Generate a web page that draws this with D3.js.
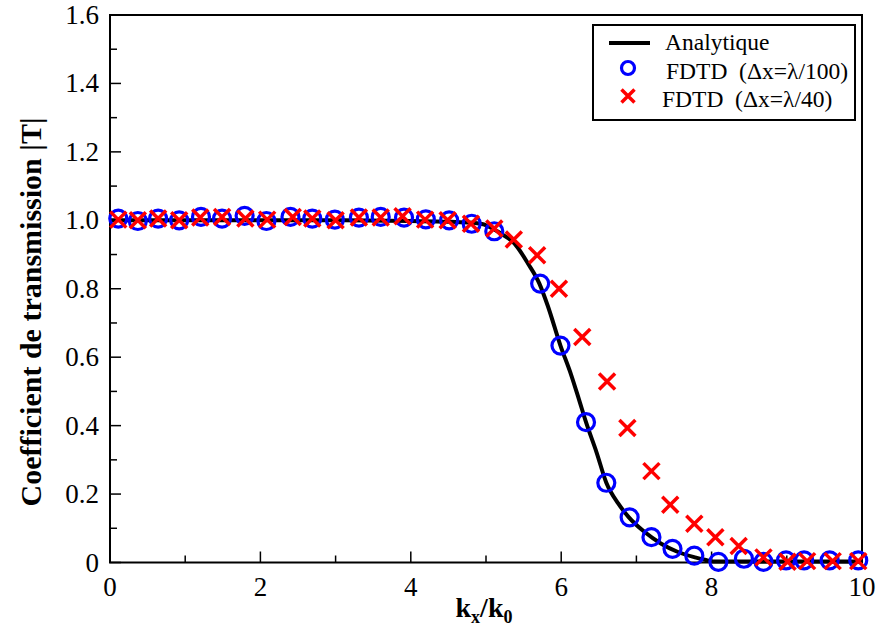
<!DOCTYPE html>
<html><head><meta charset="utf-8">
<script src="https://cdn.jsdelivr.net/npm/d3@7/dist/d3.min.js"></script>
<style>body{margin:0;background:#fff}svg{display:block} text{font-family:"Liberation Serif","DejaVu Serif",serif;}</style>
</head><body>
<svg id="chart" width="886" height="630"></svg>
<script>
// ---- data ----
const circleX = [0.11,0.37,0.64,0.92,1.21,1.49,1.79,2.08,2.40,2.69,2.99,3.31,3.60,3.91,4.20,4.51,4.81,5.11,5.72,5.99,6.33,6.60,6.91,7.20,7.48,7.77,8.09,8.43,8.69,8.99,9.23,9.57,9.95];
const circleY = [1.005,0.998,1.005,1.0,1.01,1.005,1.013,0.998,1.01,1.005,1.002,1.008,1.01,1.008,1.003,1.0,0.99,0.968,0.815,0.634,0.41,0.233,0.132,0.074,0.04,0.02,0.002,0.011,0.002,0.006,0.006,0.006,0.006];
const crossX = [0.11,0.37,0.64,0.92,1.20,1.49,1.80,2.09,2.43,2.69,3.00,3.31,3.60,3.89,4.19,4.49,4.80,5.11,5.37,5.68,5.97,6.28,6.61,6.88,7.20,7.45,7.77,8.05,8.36,8.69,9.01,9.27,9.61,9.95];
const crossY = [1.002,1.0,1.005,1.0,1.008,1.01,1.005,1.002,1.01,1.005,1.0,1.008,1.008,1.012,1.002,1.0,0.99,0.976,0.944,0.898,0.80,0.659,0.529,0.393,0.267,0.169,0.113,0.074,0.048,0.015,0.002,0.004,0.004,0.004];
const lineX = [0,1,2,3,4,4.5,4.93,5.2,5.38,5.56,5.71,5.82,5.99,6.13,6.24,6.33,6.47,6.6,6.76,6.9,7.11,7.33,7.56,7.78,7.91,8.02,9,10];
const lineY = [1.0,1.0,1.0,1.0,0.998,0.996,0.99,0.961,0.932,0.873,0.815,0.751,0.634,0.55,0.474,0.41,0.322,0.233,0.172,0.132,0.089,0.055,0.03,0.015,0.008,0.003,0.003,0.003];
const xTicks = [0,2,4,6,8,10];
const yTicks = [0,0.2,0.4,0.6,0.8,1.0,1.2,1.4,1.6];
const yTickLabels = ["0","0.2","0.4","0.6","0.8","1.0","1.2","1.4","1.6"];
const legendLabels = ["Analytique","FDTD  (\u0394x=\u03bb/100)","FDTD  (\u0394x=\u03bb/40)"];

const svg = d3.select("#chart");
const L=110, R=862, T=15, B=562.5;
const x = d3.scaleLinear().domain([0,10]).range([L,R]);
const y = d3.scaleLinear().domain([0,1.6]).range([B,T]);

function txt(sel){ return sel.style("font-family",`"Liberation Serif"`); }

// ticks (major every 2 / 0.2, minor every 1 / 0.1)
const g = svg.append("g");
g.selectAll("line.xt").data(d3.range(0,11,1)).enter().append("line")
  .attr("x1",d=>x(d)).attr("x2",d=>x(d)).attr("y1",B).attr("y2",d=>B-(d%2===0?11:7))
  .attr("stroke","#000").attr("stroke-width",1.5);
g.selectAll("line.yt").data(d3.range(0,17,1).map(i=>i/10)).enter().append("line")
  .attr("x1",L).attr("x2",(d,i)=>L+(i%2===0?11:7)).attr("y1",d=>y(d)).attr("y2",d=>y(d))
  .attr("stroke","#000").attr("stroke-width",1.5);

// frame
svg.append("rect").attr("x",L).attr("y",T).attr("width",R-L).attr("height",B-T)
  .attr("fill","none").attr("stroke","#000").attr("stroke-width",2);

// tick labels
txt(svg.selectAll("text.xl").data(xTicks).enter().append("text"))
  .attr("x",d=>x(d)).attr("y",596).attr("text-anchor","middle")
  .style("font-size","27px").text(d=>d);
txt(svg.selectAll("text.yl").data(yTicks).enter().append("text"))
  .attr("x",99).attr("y",d=>y(d)+9).attr("text-anchor","end")
  .style("font-size","27px").text((d,i)=>yTickLabels[i]);

// axis titles
const xt = txt(svg.append("text")).attr("x",484).attr("y",617).attr("text-anchor","middle")
  .style("font-size","28px").style("font-weight","bold");
xt.append("tspan").text("k");
xt.append("tspan").style("font-size","18px").attr("dy",6).text("x");
xt.append("tspan").attr("dy",-6).text("/k");
xt.append("tspan").style("font-size","18px").attr("dy",6).text("0");
txt(svg.append("text")).attr("transform","translate(41,312) rotate(-90)").attr("text-anchor","middle")
  .style("font-size","30px").style("font-weight","bold")
  .text("Coefficient de transmission |T|");

// data
const line = d3.line().x(d=>x(d[0])).y(d=>y(d[1])).curve(d3.curveMonotoneX);
svg.append("path").datum(lineX.map((v,i)=>[v,lineY[i]])).attr("d",line)
  .attr("fill","none").attr("stroke","#000").attr("stroke-width",4);
svg.selectAll("circle.c").data(circleX).enter().append("circle")
  .attr("cx",d=>x(d)).attr("cy",(d,i)=>y(circleY[i])).attr("r",8.5)
  .attr("fill","none").attr("stroke","#0000ff").attr("stroke-width",3.2);
function cross(sel, cx, cy, s){
  sel.append("path").attr("d",`M${cx-s},${cy-s}L${cx+s},${cy+s}M${cx-s},${cy+s}L${cx+s},${cy-s}`)
    .attr("stroke","#ff0000").attr("stroke-width",3.5).attr("fill","none");
}
const cg = svg.append("g");
crossX.forEach((d,i)=>cross(cg, x(d), y(crossY[i]), 8));

// legend
svg.append("rect").attr("x",593).attr("y",25).attr("width",262).attr("height",95)
  .attr("fill","#fff").attr("stroke","#000").attr("stroke-width",2);
svg.append("line").attr("x1",609).attr("x2",650).attr("y1",43).attr("y2",43).attr("stroke","#000").attr("stroke-width",4);
svg.append("circle").attr("cx",628).attr("cy",68).attr("r",6.5).attr("fill","none").attr("stroke","#0000ff").attr("stroke-width",3.2);
cross(svg, 628, 96, 6.5);
const ly = [50,79,107], lx=[665,666,662];
legendLabels.forEach((t,i)=>txt(svg.append("text")).attr("x",lx[i]).attr("y",ly[i])
  .style("font-size","23.5px").style("white-space","pre").text(t));
</script>
</body></html>
